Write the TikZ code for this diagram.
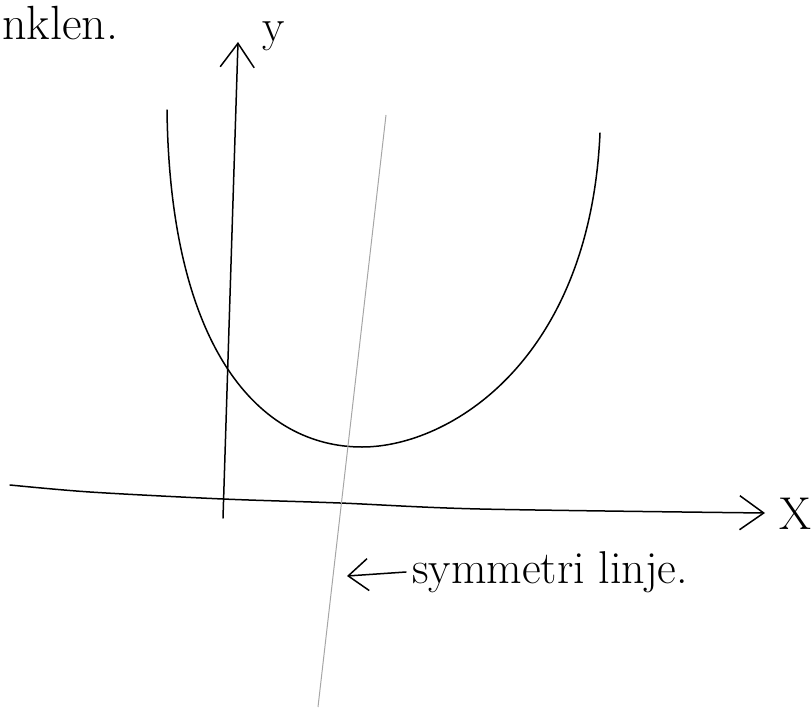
\documentclass[tikz,border=0pt]{standalone}
\usetikzlibrary{arrows.meta, positioning}

\begin{document}
\begin{tikzpicture}[x=1pt, y=-1pt,
  pen/.style={line width=1.5pt, line cap=round},
  axis/.style={pen, -{Straight Barb[length=24pt, width=34pt, line width=1.5pt]}},
  hand/.style={font=\fontsize{46}{46}\selectfont, inner sep=0pt}
]
  \useasboundingbox (0,0) rectangle (811,709);

  % axes
  \coordinate (ybot) at (223,518);
  \coordinate (ytop) at (238,42);
  \coordinate (xleft) at (10,485);
  \coordinate (xright) at (765,513);
  \draw[axis] (ybot) -- (ytop);
  \draw[axis] plot[smooth] coordinates {(xleft) (90,492) (223,499) (340,503) (480,509) (xright)};
  \node[hand, anchor=base west] (ylab) at (262,42) {y};
  \node[hand] (xlab) at (795,514) {X};

  % the curve
  \coordinate (cmin) at (362,447);
  \draw[pen] (167,110) .. controls (170,350) and (260,447) .. (cmin)
    .. controls (450,447) and (590,360) .. (600,133);

  % symmetry line
  \coordinate (stop) at (386,115);
  \coordinate (sbot) at (318,707);
  \draw[gray!70, line width=1pt] (stop) -- (sbot);
  \coordinate (spoint) at (347,576);
  \node[hand, anchor=west] (sym) at (412,572) {symmetri linje.};
  \draw[pen, -{Straight Barb[length=20pt, width=32pt, line width=1.5pt]}] (sym.west) ++(-6,0) coordinate (sarr) (sarr) -- (spoint);

  % text at top
  \node[hand, anchor=base west, font=\fontsize{48}{48}\selectfont] (top) at (2,40) {nklen.};
\end{tikzpicture}
\end{document}
